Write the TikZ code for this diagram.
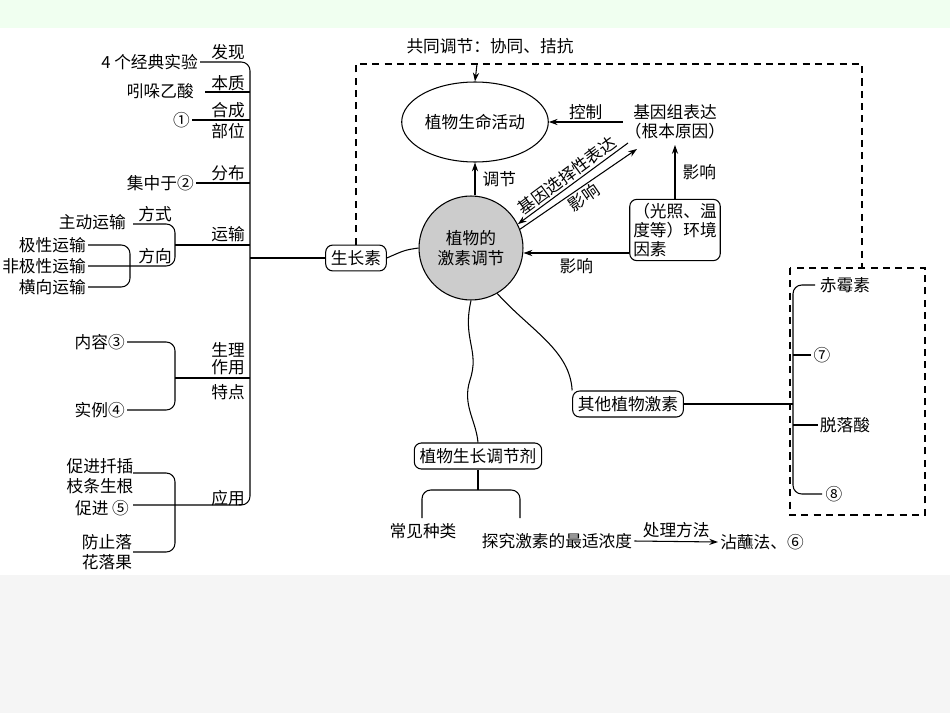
\documentclass[tikz,border=0pt]{standalone}
\usepackage{fontspec}
\setmainfont{Noto Sans CJK SC}
\usetikzlibrary{positioning,arrows.meta,shapes.geometric}
\tikzset{
  lbl/.style={inner sep=1pt,font=\fontsize{9.5}{11}\selectfont},
  box/.style={draw,rounded corners=4pt,inner sep=3pt,font=\fontsize{9.5}{11}\selectfont},
  ln/.style={draw,line width=0.6pt},
  arr/.style={ln,-{Stealth[length=5pt,width=3.5pt]}},
  dsh/.style={ln,dash pattern=on 4pt off 3pt},
}
\begin{document}
\begin{tikzpicture}[x=0.02cm,y=-0.02cm,line width=0.6pt]
\fill[green!6] (0,0) rectangle (950,28);
\fill[gray!8] (0,575) rectangle (950,713);
\useasboundingbox (0,0) rectangle (950,713);
% centre
\node[circle,draw,fill=gray!40,minimum size=2.08cm,align=center,lbl] (hor) at (471,248) {植物的\\激素调节};
\node[ellipse,draw,minimum width=2.48cm,minimum height=1.6cm,lbl] (life) at (475,122) {植物生命活动};
\node[lbl,align=center] (gene) at (675,122) {基因组表达\\（根本原因）};
\node[box,align=left,inner sep=2pt] (env) at (675,230) {（光照、温\\度等）环境\\因素};
\node[lbl] (joint) at (490,46) {共同调节：协同、拮抗};
\node[box] (auxin) at (356,258) {生长素};
\node[box] (other) at (628,404) {其他植物激素};
\node[box] (reg) at (478,456) {植物生长调节剂};
\draw[dsh] (auxin.north) |- (862,64) -- (862,268);
\draw[arr] (477,64) -- (life.north);
\draw[arr] (gene.west |- life) -- node[lbl,above]{控制} (life.east);
\draw[arr] (hor.north -| life) -- node[lbl,right=3pt]{调节} (life.south);
\draw[arr] (628,143) -- node[lbl,sloped,above]{基因选择性表达} (hor.27);
\draw[arr] (hor.21) -- node[lbl,sloped,below]{影响} (637,149);
\draw[arr] (env.north) -- node[lbl,right=3pt]{影响} (675,145);
\draw[arr] (env.west |- 0,253) -- node[lbl,below=2pt]{影响} (hor.east |- 0,253);
\draw[ln] (hor.west) .. controls (405,250) .. (auxin.east);
\draw[ln] (hor.south) .. controls (462,340) and (480,350) .. (470,380) .. controls (462,405) and (476,420) .. (reg.north);
\draw[ln] (hor.-60) .. controls (530,330) and (570,350) .. (other.north west);
% auxin branches
\coordinate (tr) at (250,258);
\draw[ln] (auxin.west) -- (tr);
\draw[ln,rounded corners=5pt] (200,62) -- (250,62) -- (250,505) -- (133,505);
\node[lbl,anchor=east] (exp) at (200,62) {4 个经典实验};
\node[lbl] at (228,52) {发现};
\node[lbl,anchor=east] (iaa) at (196,91) {吲哚乙酸};
\draw[ln] (205,92) -- (250,92);
\node[lbl] at (228,83) {本质};
\node[lbl,anchor=east] (c1) at (192,120) {①};
\draw[ln] (c1.east) -- (250,120);
\node[lbl] at (228,110) {合成};
\node[lbl] at (228,131) {部位};
\node[lbl,anchor=east] (c2) at (196,183) {集中于②};
\draw[ln] (c2.east) -- (250,183);
\node[lbl] at (228,173) {分布};
\draw[ln] (175,245) -- (250,245);
\node[lbl] at (228,234) {运输};
\node[lbl,anchor=east] (act) at (128,222) {主动运输};
\node[lbl] at (155,214) {方式};
\node[lbl] at (155,256) {方向};
\draw[ln,rounded corners=5pt] (133,224) -- (175,224) -- (175,266) -- (88,266);
\node[lbl,anchor=east] (pol) at (88,245) {极性运输};
\node[lbl,anchor=east] (npol) at (88,266) {非极性运输};
\node[lbl,anchor=east] (lat) at (88,287) {横向运输};
\draw[ln,rounded corners=5pt] (pol.east) -- (130,245) -- (130,287) -- (lat.east);
\node[lbl] at (228,350) {生理};
\node[lbl] at (228,367) {作用};
\node[lbl] at (228,392) {特点};
\draw[ln] (175,378) -- (250,378);
\node[lbl,anchor=east] (c3) at (127,342) {内容③};
\node[lbl,anchor=east] (c4) at (127,410) {实例④};
\draw[ln,rounded corners=5pt] (c3.east) -- (175,342) -- (175,410) -- (c4.east);
\node[lbl] at (228,498) {应用};
\node[lbl,align=left] (root) at (100,476) {促进扦插\\枝条生根};
\node[lbl] (c5) at (102,508) {促进 ⑤};
\node[lbl,align=left] (fall) at (107,552) {防止落\\花落果};
\draw[ln,rounded corners=5pt] (133,473) -- (175,473) -- (175,552) -- (133,552);
% other hormones
\draw[dsh] (790,268) rectangle (925,515);
\draw[ln] (other.east) -- (793,404);
\draw[ln,rounded corners=5pt] (815,285) -- (793,285) -- (793,494) -- (822,494);
\node[lbl] (gib) at (845,285) {赤霉素};
\node[lbl] (c7) at (822,355) {⑦};
\draw[ln] (793,355) -- (c7.west);
\node[lbl] (aba) at (845,425) {脱落酸};
\draw[ln] (793,425) -- (aba.west);
\node[lbl] (c8) at (834,494) {⑧};
% regulators
\draw[ln] (reg.south) -- (478,490);
\draw[ln,rounded corners=5pt] (422,518) -- (422,490) -- (520,490) -- (520,518);
\node[lbl] (kind) at (423,531) {常见种类};
\node[lbl] (conc) at (557,541) {探究激素的最适浓度};
\node[lbl] (dip) at (762,542) {沾蘸法、⑥};
\draw[arr] (conc.east) -- node[lbl,above=1pt]{处理方法} (dip.west);
\end{tikzpicture}
\end{document}
